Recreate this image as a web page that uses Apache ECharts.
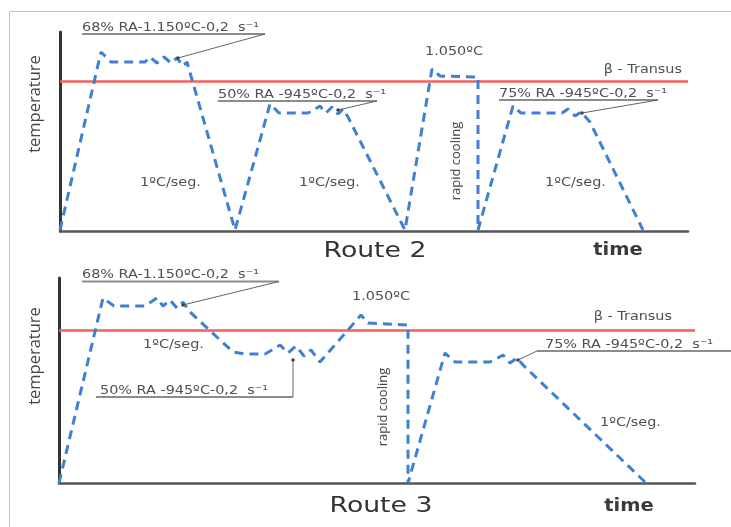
<!DOCTYPE html>
<html><head><meta charset="utf-8">
<script src="https://cdn.jsdelivr.net/npm/echarts@6/dist/echarts.min.js"></script>
<style>html,body{margin:0;padding:0;background:#fff}#c{width:731px;height:527px}</style>
</head><body><div id="c"></div>
<script>
// Route 2 (top): schematic time / temperature path
const route2Time = [0,41,51,85,90,97,104,111,117,123,127,175,210,219,248,254,260,266,272,278,283,288,345,372,380,418,418,453,461,502,508,515,521,530,583];
const route2Temp = [1,179,169,169,174,168,174,168,173,165,169,1,127,118,118,121,125,118,124,117,122,114,1,162,155,154,1,125,118,118,122,115,119,109,1];
// Route 3 (bottom)
const route3Time = [0,44,55,86,92,98,104,111,118,124,131,174,186,206,213,221,229,237,245,252,261,302,309,349,349,386,396,431,437,444,451,458,465,586];
const route3Temp = [0,185,177,177,181,185,177,183,175,181,171,131,129,129,133,138,130,137,127,133,121,168,160,158,0,130,121,121,124,128,120,125,117,1];
const betaTransus = [150, 153];
const routeNames = ['Route 2', 'Route 3'];

const chart = echarts.init(document.getElementById('c'), null, {renderer:'canvas'});
const FONT = '"DejaVu Sans",sans-serif';
const BLUE = '#3f80d2';
const RED = '#f2615b';

function axisX(i, max){
  return {gridIndex:i, type:'value', min:0, max:max,
    axisLine:{show:true, onZero:false, lineStyle:{color:'#555', width:2.5}},
    axisTick:{show:false}, axisLabel:{show:false}, splitLine:{show:false}};
}
function axisY(i, max){
  return {gridIndex:i, type:'value', min:0, max:max,
    axisLine:{show:true, onZero:false, lineStyle:{color:'#333', width:3}},
    axisTick:{show:false}, axisLabel:{show:false}, splitLine:{show:false}};
}
function routeSeries(i, t, v, beta){
  return {type:'line', xAxisIndex:i, yAxisIndex:i, name:routeNames[i],
    data:t.map((x,k)=>[x, v[k]]), symbol:'none', showSymbol:false, clip:false,
    lineStyle:{color:BLUE, width:3, type:[9,6]}, z:3,
    markLine:{silent:true, symbol:['none','none'], label:{show:false}, z:2,
      lineStyle:{color:RED, width:2.5, type:'solid'}, data:[{yAxis:beta}]}};
}
// annotation text: stretched horizontally to mimic the wide-spaced lettering
function txt(x, y, text, size, extra, sx, va){
  return {type:'text', x:x, y:y, z:10, scaleX:(sx||1.2),
    style:Object.assign({text:text, fill:'#505050', font:size+'px '+FONT, align:'left', verticalAlign:(va||'middle')}, extra||{})};
}
function rtxt(x, y, text, size){
  return {type:'text', x:x, y:y, rotation:Math.PI/2, z:10,
    style:{text:text, fill:'#444', font:size+'px "Open Sans",sans-serif', align:'center', verticalAlign:'middle'}};
}
function uline(pts){ return {type:'polyline', z:9, shape:{points:pts}, style:{stroke:'#8c8c8c', lineWidth:1.8, fill:null}}; }
function leader(pts){ return {type:'polyline', z:9, shape:{points:pts}, style:{stroke:'#666', lineWidth:1, fill:null}}; }
function dot(x,y){ return {type:'circle', z:11, shape:{cx:x, cy:y, r:1.8}, style:{fill:'#444'}}; }

const graphics = [
  {type:'polyline', shape:{points:[[9.5,527],[9.5,11.5],[731,11.5]]}, style:{stroke:'#c4c4c4', lineWidth:1, fill:null}},
  // top
  rtxt(35, 104, 'temperature', 16.5),
  txt(82, 33.5, '68% RA-1.150ºC-0,2  s⁻¹', 12, null, 1.2, 'bottom'),
  uline([[82,34],[265,34]]), leader([[265,34],[178,58]]), dot(178,58),
  txt(218, 100.5, '50% RA -945ºC-0,2  s⁻¹', 12, null, 1.2, 'bottom'),
  uline([[218,101],[377,101]]), leader([[377,101],[338,110]]), dot(338,110),
  txt(425, 52, '1.050ºC', 12),
  txt(682, 70, 'β - Transus', 12, {align:'right'}),
  txt(499, 99.5, '75% RA -945ºC-0,2  s⁻¹', 12, null, 1.2, 'bottom'),
  uline([[499,100],[658,100]]), leader([[658,100],[582,113]]), dot(582,113),
  rtxt(456, 161, 'rapid cooling', 13),
  txt(140, 183, '1ºC/seg.', 12),
  txt(299, 183, '1ºC/seg.', 12),
  txt(545, 183, '1ºC/seg.', 12),
  txt(375, 252, routeNames[0], 21, {fill:'#333', align:'center'}, 1.27),
  txt(618, 250, 'time', 18, {fill:'#3a3a3a', align:'center', font:'bold 18px '+FONT}, 1.08),
  // bottom
  rtxt(35, 356, 'temperature', 16.5),
  txt(82, 281, '68% RA-1.150ºC-0,2  s⁻¹', 12, null, 1.2, 'bottom'),
  uline([[82,281.5],[279,281.5]]), leader([[279,281.5],[183,305]]), dot(183,305),
  txt(143, 345, '1ºC/seg.', 12),
  txt(100, 396.5, '50% RA -945ºC-0,2  s⁻¹', 12, null, 1.2, 'bottom'),
  uline([[96,397],[293,397]]), leader([[293,397],[293,360]]), dot(293,360),
  txt(352, 297, '1.050ºC', 12),
  txt(672, 317, 'β - Transus', 12, {align:'right'}),
  txt(545, 350.5, '75% RA -945ºC-0,2  s⁻¹', 12, null, 1.2, 'bottom'),
  uline([[537,351],[731,351]]), leader([[537,351],[518,360]]), dot(518,360),
  rtxt(383, 407, 'rapid cooling', 13),
  txt(600, 423, '1ºC/seg.', 12),
  txt(381, 507, routeNames[1], 21, {fill:'#333', align:'center'}, 1.27),
  txt(629, 506, 'time', 18, {fill:'#3a3a3a', align:'center', font:'bold 18px '+FONT}, 1.08)
];

chart.setOption({
  animation:false,
  backgroundColor:'#fff',
  grid:[
    {left:60, top:32, width:628, height:199, containLabel:false},
    {left:59, top:278, width:636, height:205, containLabel:false}
  ],
  xAxis:[axisX(0, 628), axisX(1, 636)],
  yAxis:[axisY(0, 199), axisY(1, 205)],
  series:[
    routeSeries(0, route2Time, route2Temp, betaTransus[0]),
    routeSeries(1, route3Time, route3Temp, betaTransus[1])
  ],
  graphic:graphics
});
</script></body></html>
